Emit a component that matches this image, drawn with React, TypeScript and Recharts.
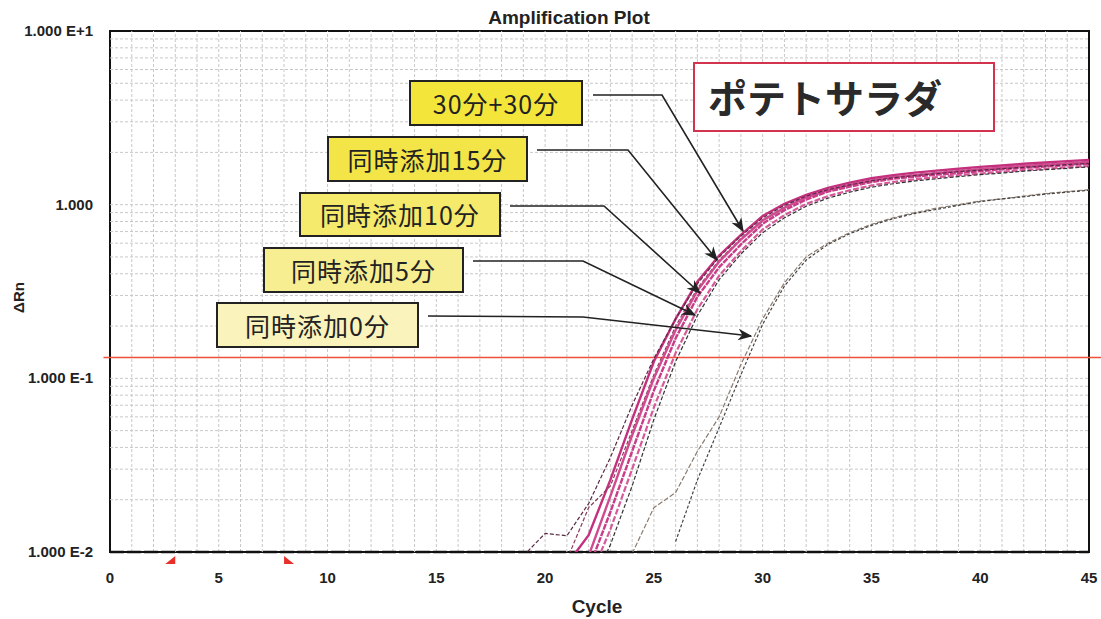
import { LineChart, Line, XAxis, YAxis, ReferenceLine, ReferenceArea, ReferenceDot } from 'recharts'

const cycles = [19, 20, 21, 22, 23, 24, 25, 26, 27, 28, 29, 30, 31, 32, 33, 34, 35, 36, 37, 38, 39, 40, 41, 42, 43, 44, 45]

// pink bundle (30+30, 15, 10, 5) and dark replicate traces
const p1 = [null, null, 0.0085, 0.0125, 0.026, 0.058, 0.125, 0.22, 0.36, 0.51, 0.67, 0.86, 1.01, 1.14, 1.25, 1.34, 1.42, 1.48, 1.53, 1.57, 1.61, 1.65, 1.68, 1.72, 1.75, 1.78, 1.81]
const p2 = [null, null, null, 0.0095, 0.021, 0.047, 0.1, 0.19, 0.32, 0.47, 0.63, 0.81, 0.96, 1.1, 1.21, 1.3, 1.38, 1.44, 1.48, 1.52, 1.56, 1.6, 1.63, 1.67, 1.7, 1.73, 1.76]
const p3 = [null, null, null, 0.008, 0.017, 0.038, 0.085, 0.17, 0.295, 0.436, 0.59, 0.776, 0.93, 1.07, 1.19, 1.27, 1.35, 1.41, 1.45, 1.49, 1.52, 1.56, 1.6, 1.63, 1.66, 1.69, 1.72]
const p4 = [null, null, null, 0.0068, 0.0135, 0.03, 0.068, 0.14, 0.25, 0.39, 0.54, 0.72, 0.87, 1.01, 1.12, 1.21, 1.29, 1.35, 1.4, 1.44, 1.48, 1.51, 1.55, 1.58, 1.61, 1.64, 1.67]
const p5 = [null, null, 0.009, 0.018, 0.024, 0.05, 0.105, 0.2, 0.33, 0.48, 0.64, 0.82, 0.97, 1.11, 1.22, 1.31, 1.39, 1.45, 1.49, 1.53, 1.57, 1.61, 1.64, 1.68, 1.71, 1.74, 1.77]
const d1 = [0.0095, 0.0128, 0.0124, 0.019, 0.035, 0.07, 0.13, 0.22, 0.35, 0.5, 0.66, 0.84, 0.99, 1.12, 1.22, 1.3, 1.37, 1.43, 1.47, 1.51, 1.55, 1.58, 1.61, 1.64, 1.67, 1.7, 1.73]
const d2 = [null, null, null, 0.006, 0.011, 0.024, 0.058, 0.125, 0.23, 0.37, 0.52, 0.69, 0.84, 0.98, 1.09, 1.18, 1.26, 1.32, 1.37, 1.41, 1.45, 1.49, 1.52, 1.56, 1.59, 1.62, 1.65]
// 同時添加0分
const z1 = [null, null, null, null, null, 0.0098, 0.018, 0.022, 0.038, 0.06, 0.12, 0.22, 0.355, 0.5, 0.6, 0.69, 0.77, 0.84, 0.9, 0.955, 1.0, 1.05, 1.08, 1.12, 1.16, 1.19, 1.22]
const z2 = [null, null, null, null, null, null, null, 0.0115, 0.026, 0.052, 0.105, 0.205, 0.34, 0.48, 0.59, 0.68, 0.76, 0.83, 0.89, 0.94, 0.99, 1.04, 1.08, 1.11, 1.15, 1.18, 1.21]

const threshold = 0.132
const xTicks = [0, 5, 10, 15, 20, 25, 30, 35, 40, 45]
const yTicks = [0.01, 0.1, 1, 10]
const yTickText: Record<string, string> = { '0.01': '1.000 E-2', '0.1': '1.000 E-1', '1': '1.000', '10': '1.000 E+1' }
const gridX = Array.from({ length: 44 }, (_, i) => i + 1)
const gridY = [0.02, 0.03, 0.04, 0.05, 0.06, 0.07, 0.08, 0.09, 0.1, 0.2, 0.3, 0.4, 0.5, 0.6, 0.7, 0.8, 0.9, 1, 2, 3, 4, 5, 6, 7, 8, 9]
const baselineMarks = [3, 8]

const labels = [
  { text: '30分+30分', box: [409, 80, 174, 46], bg: '#f4e53a', path: '593,95 662,95 743,231' },
  { text: '同時添加15分', box: [327, 136, 201, 46], bg: '#f3e448', path: '537,150 628,150 717,260' },
  { text: '同時添加10分', box: [299, 192, 202, 45], bg: '#f5ea6c', path: '510,206 604,206 700,293' },
  { text: '同時添加5分', box: [263, 247, 201, 46], bg: '#f7ee92', path: '473,261 583,261 695,315' },
  { text: '同時添加0分', box: [216, 302, 203, 46], bg: '#faf3bc', path: '428,316 583,317 751,336' },
]

const data = cycles.map((c, i) => ({
  cycle: c, p1: p1[i], p2: p2[i], p3: p3[i], p4: p4[i], p5: p5[i], d1: d1[i], d2: d2[i], z1: z1[i], z2: z2[i],
}))

const font = '"Liberation Sans Narrow", "Liberation Sans", Arial, sans-serif'
const jp = '"Noto Sans CJK JP", sans-serif'

function XTick({ x, y, payload }: any) {
  return (
    <text x={x} y={y + 23} textAnchor="middle" fontFamily={font} fontWeight="bold" fontSize={15} fill="#222">
      {payload.value}
    </text>
  )
}

function YTick({ y, payload }: any) {
  return (
    <text x={93} y={y + 5} textAnchor="end" fontFamily={font} fontWeight="bold" fontSize={15} fill="#222">
      {yTickText[String(payload.value)]}
    </text>
  )
}

function Marker({ cx, cy, left }: any) {
  const d = left
    ? `M${cx - 10},${cy + 12} L${cx},${cy + 4} L${cx},${cy + 12} Z`
    : `M${cx},${cy + 4} L${cx},${cy + 12} L${cx + 10},${cy + 12} Z`
  return <path d={d} fill="#e8302a" />
}

export default function App() {
  return (
    <div style={{ position: 'absolute', left: 0, top: 0, width: 1101, height: 619, background: '#fff' }}>
      <LineChart width={1101} height={619} data={data} margin={{ top: 31, right: 12, bottom: 27, left: 0 }}>
        {gridX.map(v => (
          <ReferenceLine key={'gx' + v} x={v} stroke="#c8c8c8" strokeDasharray="3 2" strokeWidth={1} />
        ))}
        {gridY.map(v => (
          <ReferenceLine key={'gy' + v} y={v} stroke="#c8c8c8" strokeDasharray="3 2" strokeWidth={1} />
        ))}
        <XAxis dataKey="cycle" type="number" domain={[0, 45]} ticks={xTicks} height={40}
          tick={<XTick />} tickLine={false} axisLine={false} interval={0} />
        <YAxis type="number" scale="log" domain={[0.01, 10]} ticks={yTicks} width={110} allowDataOverflow
          tick={<YTick />} tickLine={false} axisLine={false} interval={0} />
        <ReferenceArea x1={0} x2={45} y1={0.01} y2={10} fill="none" stroke="#111" strokeWidth={2} />
        <ReferenceLine y={0.01} stroke="#111" strokeWidth={2.5} strokeDasharray="14 3" />
        <ReferenceLine segment={[{ x: -0.3, y: threshold }, { x: 45.6, y: threshold }]} ifOverflow="visible" stroke="#f0503a" strokeWidth={1.5} />
        {baselineMarks.map(v => (
          <ReferenceDot key={'bm' + v} x={v} y={0.01} r={1} ifOverflow="visible" shape={(p: any) => <Marker {...p} left={v === 3} />} />
        ))}
        <Line dataKey="z1" stroke="#8c7b6e" strokeWidth={1.2} strokeDasharray="5 2" dot={false} isAnimationActive={false} />
        <Line dataKey="z2" stroke="#444" strokeWidth={1.2} strokeDasharray="3 2" dot={false} isAnimationActive={false} />
        <Line dataKey="p1" stroke="#c4307e" strokeWidth={2.4} dot={false} isAnimationActive={false} />
        <Line dataKey="p5" stroke="#8a3a5c" strokeWidth={1.2} strokeDasharray="4 2" dot={false} isAnimationActive={false} />
        <Line dataKey="p2" stroke="#d04a90" strokeWidth={2.4} dot={false} isAnimationActive={false} />
        <Line dataKey="p3" stroke="#c83c88" strokeWidth={2.4} strokeDasharray="6 1" dot={false} isAnimationActive={false} />
        <Line dataKey="p4" stroke="#d65a9a" strokeWidth={2.2} strokeDasharray="6 2" dot={false} isAnimationActive={false} />
        <Line dataKey="d1" stroke="#5a2a44" strokeWidth={1.2} strokeDasharray="4 2" dot={false} isAnimationActive={false} />
        <Line dataKey="d2" stroke="#333" strokeWidth={1.2} strokeDasharray="4 2" dot={false} isAnimationActive={false} />
      </LineChart>

      <div style={{ position: 'absolute', left: 0, top: 7, width: 1138, textAlign: 'center', fontFamily: font, fontWeight: 'bold', fontSize: 19, color: '#222' }}>
        Amplification Plot
      </div>
      <div style={{ position: 'absolute', left: 0, top: 596, width: 1194, textAlign: 'center', fontFamily: font, fontWeight: 'bold', fontSize: 19, color: '#222' }}>
        Cycle
      </div>
      <div style={{ position: 'absolute', left: 0, top: 289, width: 36, textAlign: 'center', transform: 'rotate(-90deg)', fontFamily: font, fontWeight: 'bold', fontSize: 15, color: '#222' }}>
        ΔRn
      </div>

      <div style={{ position: 'absolute', left: 693, top: 62, width: 298, height: 66, border: '2px solid #d2344f', background: '#fff', boxSizing: 'content-box' }}>
        <div style={{ position: 'absolute', left: 13, top: 4, fontFamily: jp, fontWeight: 'bold', fontSize: 39, color: '#2a2a2a' }}>
          ポテトサラダ
        </div>
      </div>

      {labels.map(l => (
        <div key={l.text} style={{
          position: 'absolute', left: l.box[0], top: l.box[1], width: l.box[2] - 4, height: l.box[3] - 4,
          background: l.bg, border: '2px solid #222', display: 'flex', alignItems: 'center', justifyContent: 'center',
          fontFamily: jp, fontSize: 25, letterSpacing: 1, color: '#222', lineHeight: 1,
        }}>
          {l.text}
        </div>
      ))}

      <svg width={1101} height={619} style={{ position: 'absolute', left: 0, top: 0, pointerEvents: 'none' }}>
        <defs>
          <marker id="ah" viewBox="0 0 10 10" refX="9" refY="5" markerWidth="9" markerHeight="9" orient="auto">
            <path d="M0,1 L10,5 L0,9 L3,5 Z" fill="#222" />
          </marker>
        </defs>
        {labels.map(l => (
          <polyline key={'a' + l.text} points={l.path} fill="none" stroke="#222" strokeWidth={1.6} markerEnd="url(#ah)" />
        ))}
      </svg>
    </div>
  )
}
